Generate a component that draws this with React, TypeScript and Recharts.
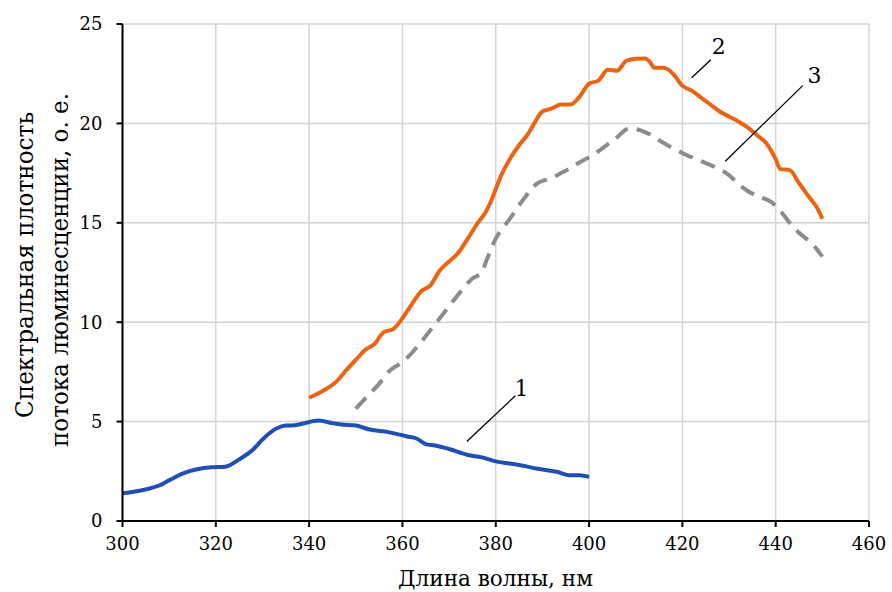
import React from 'react';
import { LineChart, Line, XAxis, YAxis, CartesianGrid, ReferenceLine, ReferenceDot } from 'recharts';

const wl1 = [300, 303, 306, 308, 310, 313, 316, 319, 322, 325, 328, 330, 333, 335, 337, 339, 342, 345, 347, 350, 353, 357, 361, 363, 365, 367, 370, 374, 377, 380, 385, 389, 393, 396, 398, 400];
const val1 = [1.4, 1.5, 1.65, 1.8, 2.05, 2.4, 2.6, 2.7, 2.73, 3.1, 3.6, 4.1, 4.65, 4.8, 4.82, 4.92, 5.05, 4.92, 4.85, 4.8, 4.6, 4.47, 4.25, 4.15, 3.87, 3.8, 3.62, 3.32, 3.2, 3.0, 2.82, 2.63, 2.48, 2.3, 2.3, 2.22];

const wl2 = [340, 343, 346, 348, 350, 352, 354, 356, 358, 360, 362, 364, 366, 368, 370, 372, 374, 376, 378, 379, 381, 383, 385, 387, 388, 390, 392, 394, 396, 398, 400, 402, 404, 406, 408, 410, 412, 413, 414, 416, 418, 420, 422, 424, 426, 428, 430, 432, 434, 436, 438, 440, 441, 443, 445, 447, 449, 450];
const val2 = [6.2, 6.55, 7.05, 7.6, 8.1, 8.6, 8.9, 9.5, 9.65, 10.2, 10.9, 11.55, 11.85, 12.6, 13.05, 13.5, 14.2, 14.95, 15.6, 16.1, 17.3, 18.2, 18.9, 19.5, 19.9, 20.6, 20.75, 20.95, 20.95, 21.35, 22.0, 22.15, 22.7, 22.65, 23.15, 23.25, 23.27, 23.1, 22.8, 22.8, 22.5, 21.9, 21.65, 21.3, 20.95, 20.6, 20.35, 20.1, 19.8, 19.4, 19.0, 18.2, 17.7, 17.65, 17.0, 16.35, 15.7, 15.2];

const wl3 = [350, 353, 355, 357, 360, 362, 365, 367, 369, 372, 375, 377, 378, 380, 383, 386, 389, 392, 394, 396, 398, 400, 402, 404, 406, 408, 409, 411, 413, 415, 418, 421, 424, 427, 430, 432, 434, 436, 439, 441, 443, 445, 448, 450];
const val3 = [5.65, 6.4, 6.9, 7.5, 8.0, 8.45, 9.3, 9.9, 10.5, 11.4, 12.2, 12.5, 13.1, 14.2, 15.2, 16.2, 17.0, 17.25, 17.5, 17.75, 18.05, 18.3, 18.6, 18.95, 19.3, 19.7, 19.75, 19.65, 19.45, 19.15, 18.75, 18.4, 18.1, 17.8, 17.4, 16.95, 16.6, 16.35, 16.05, 15.6, 15.0, 14.5, 13.9, 13.3];

const xTicks = [300, 320, 340, 360, 380, 400, 420, 440, 460];
const yTicks = [0, 5, 10, 15, 20, 25];

const curveLabels = ['1', '2', '3'];
const labelPos = [[385.5, 6.7], [427.8, 23.9], [448.3, 22.45]];
const leaders = [
  [[373.8, 4.0], [384.2, 6.3]],
  [[422.0, 22.3], [426.1, 23.2]],
  [[429.2, 18.1], [445.8, 21.9]],
];

const xTitle = 'Длина волны, нм';
const yTitle1 = 'Спектральная плотность';
const yTitle2 = 'потока люминесценции, о. е.';

const toData = (xs: number[], ys: number[]) => xs.map((x, i) => ({ x, y: ys[i] }));
const d1 = toData(wl1, val1);
const d2 = toData(wl2, val2);
const d3 = toData(wl3, val3);

const SERIF = { fontFamily: 'DejaVu Serif' };

const YTitle = () => {
  const c1 = 265;
  const c2 = 270;
  return (
    <g>
      <text x={33} y={c1} transform={`rotate(-90, 33, ${c1})`} textAnchor="middle" style={SERIF} fontSize={25} textLength={306} lengthAdjust="spacingAndGlyphs" fill="#000">{yTitle1}</text>
      <text x={68} y={c2} transform={`rotate(-90, 68, ${c2})`} textAnchor="middle" style={SERIF} fontSize={25} textLength={354} lengthAdjust="spacingAndGlyphs" fill="#000">{yTitle2}</text>
    </g>
  );
};

const XTitle = () => (
  <text x={495.5} y={586} textAnchor="middle" style={SERIF} fontSize={22} textLength={195} lengthAdjust="spacingAndGlyphs" fill="#000">{xTitle}</text>
);

export default function App() {
  return (
    <div style={{ position: 'absolute', left: 0, top: 0, background: '#fff' }}>
      <LineChart width={892} height={592} margin={{ top: 24, right: 23, left: 0, bottom: 0 }}>
        <CartesianGrid stroke="#d4d4d4" strokeWidth={1.5} />
        <XAxis
          dataKey="x"
          type="number"
          domain={[300, 460]}
          ticks={xTicks}
          allowDuplicatedCategory={false}
          height={71}
          tickSize={6}
          tickMargin={10}
          axisLine={{ stroke: '#000', strokeWidth: 2 }}
          tickLine={{ stroke: '#000', strokeWidth: 2 }}
          tick={{ fill: '#000', fontSize: 18, style: SERIF }}
          label={<XTitle />}
        />
        <YAxis
          type="number"
          domain={[0, 25]}
          ticks={yTicks}
          width={122.5}
          tickSize={6}
          tickMargin={14}
          axisLine={{ stroke: '#000', strokeWidth: 2 }}
          tickLine={{ stroke: '#000', strokeWidth: 2 }}
          tick={{ fill: '#000', fontSize: 18, style: SERIF }}
          label={<YTitle />}
        />
        <Line data={d1} dataKey="y" type="monotone" stroke="#1f4fb5" strokeWidth={4} dot={false} isAnimationActive={false} />
        <Line data={d2} dataKey="y" type="monotone" stroke="#ea6414" strokeWidth={4} dot={false} isAnimationActive={false} />
        <Line data={d3} dataKey="y" type="monotone" stroke="#8c8c8c" strokeWidth={4} strokeDasharray="15 9" dot={false} isAnimationActive={false} />
        {leaders.map((seg, i) => (
          <ReferenceLine
            key={'l' + i}
            segment={[{ x: seg[0][0], y: seg[0][1] }, { x: seg[1][0], y: seg[1][1] }]}
            stroke="#000"
            strokeWidth={1.3}
            ifOverflow="visible"
          />
        ))}
        {curveLabels.map((t, i) => (
          <ReferenceDot
            key={'d' + i}
            x={labelPos[i][0]}
            y={labelPos[i][1]}
            r={0}
            fill="none"
            stroke="none"
            ifOverflow="visible"
            label={{ value: t, position: 'center', fontSize: 22, style: SERIF, fill: '#000' }}
          />
        ))}
      </LineChart>
    </div>
  );
}
